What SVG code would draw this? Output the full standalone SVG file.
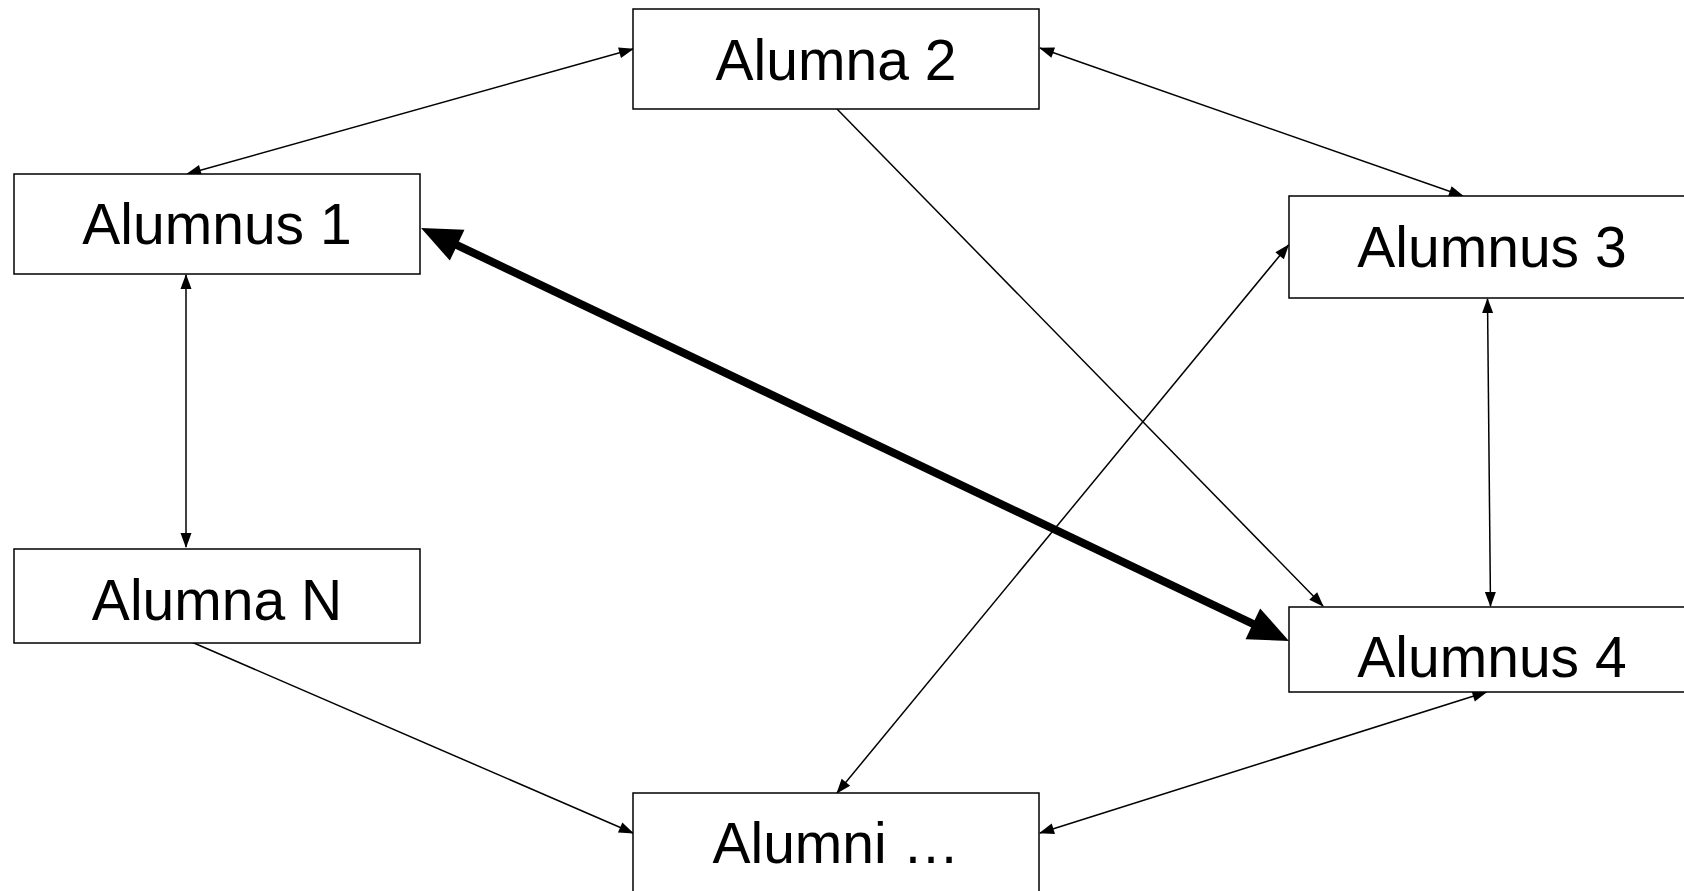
<svg xmlns="http://www.w3.org/2000/svg" width="1684" height="891" viewBox="0 0 1684 891">
<style>
.box{fill:#fff;stroke:#000;stroke-width:1.5}
.lbl{font-family:"Liberation Sans",Arial,sans-serif;font-size:57px;fill:#000;text-anchor:middle}
.thin{stroke:#000;stroke-width:1.5;fill:none}
.thick{stroke:#000;stroke-width:8;fill:none}
</style>
<defs>
<marker id="a" markerUnits="userSpaceOnUse" markerWidth="15" markerHeight="11" refX="14" refY="5.5" orient="auto-start-reverse" overflow="visible">
<path d="M0,0 L15,5.5 L0,11 z" fill="#000"/>
</marker>
<marker id="A" markerUnits="userSpaceOnUse" markerWidth="40" markerHeight="34" refX="20" refY="17" orient="auto-start-reverse" overflow="visible">
<path d="M0,0 L40,17 L0,34 z" fill="#000"/>
</marker>
</defs>
<rect width="1684" height="891" fill="#fff"/>
<g id="connectors">
<line class="thin" x1="187" y1="174" x2="633" y2="49" marker-start="url(#a)" marker-end="url(#a)"/>
<line class="thin" x1="1040" y1="48" x2="1463" y2="196" marker-start="url(#a)" marker-end="url(#a)"/>
<line class="thin" x1="837" y1="109" x2="1323" y2="606" marker-end="url(#a)"/>
<line class="thin" x1="1487.5" y1="299" x2="1490.5" y2="606" marker-start="url(#a)" marker-end="url(#a)"/>
<line class="thin" x1="186" y1="275" x2="186" y2="547" marker-start="url(#a)" marker-end="url(#a)"/>
<line class="thin" x1="187" y1="640" x2="633" y2="833" marker-end="url(#a)"/>
<line class="thin" x1="1486.5" y1="692" x2="1040" y2="833" marker-start="url(#a)" marker-end="url(#a)"/>
<line class="thin" x1="837" y1="793" x2="1288.5" y2="245" marker-start="url(#a)" marker-end="url(#a)"/>
<line class="thick" x1="439.1" y1="236.6" x2="1270.9" y2="632.4" marker-start="url(#A)" marker-end="url(#A)"/>
</g>
<g id="alumnus1">
<rect class="box" x="14" y="174" width="406" height="100"/>
<text class="lbl" x="217" y="244">Alumnus 1</text>
</g>
<g id="alumna2">
<rect class="box" x="633" y="9" width="406" height="100"/>
<text class="lbl" x="836" y="80">Alumna 2</text>
</g>
<g id="alumnus3">
<rect class="box" x="1289" y="196" width="406" height="102"/>
<text class="lbl" x="1492" y="267">Alumnus 3</text>
</g>
<g id="alumnus4">
<rect class="box" x="1289" y="607" width="406" height="85"/>
<text class="lbl" x="1492" y="677">Alumnus 4</text>
</g>
<g id="alumnaN">
<rect class="box" x="14" y="549" width="406" height="94"/>
<text class="lbl" x="217" y="620">Alumna N</text>
</g>
<g id="alumni">
<rect class="box" x="633" y="793" width="406" height="110"/>
<text class="lbl" x="836" y="863">Alumni …</text>
</g>
</svg>
